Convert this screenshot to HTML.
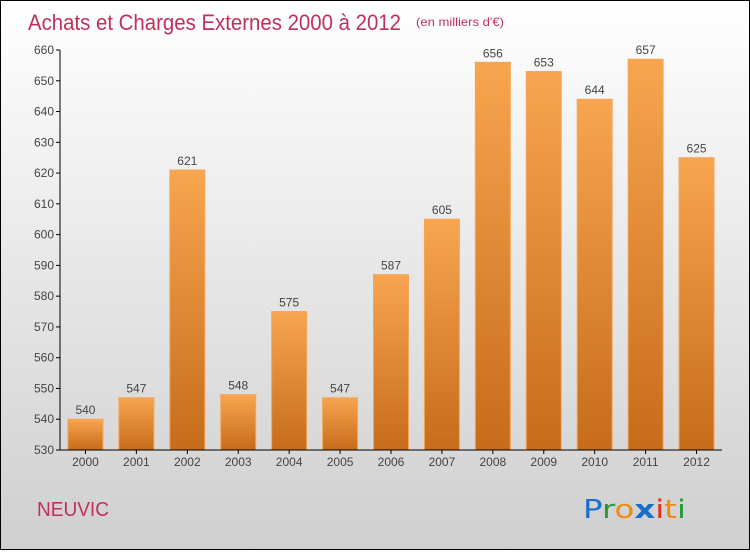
<!DOCTYPE html>
<html><head><meta charset="utf-8"><style>
body{margin:0;width:750px;height:550px;overflow:hidden;font-family:"Liberation Sans",sans-serif}
#wrap{position:relative;width:748px;height:548px;border:1px solid #000;background:linear-gradient(#ffffff,#cfcfcf)}
</style></head><body>
<div id="wrap">
<svg id="chart" width="748" height="548" font-family="Liberation Sans, sans-serif">
<text x="27" y="29" font-size="22" fill="#c0305a" textLength="373" lengthAdjust="spacingAndGlyphs">Achats et Charges Externes 2000 à 2012</text>
<text x="415" y="25" font-size="12" fill="#c0305a" textLength="88" lengthAdjust="spacingAndGlyphs">(en milliers d'€)</text>
<text x="36" y="515" font-size="20" fill="#c0305a" textLength="72" lengthAdjust="spacingAndGlyphs">NEUVIC</text>
<g font-size="26" font-family="DejaVu Sans, sans-serif">
<text x="582" y="517" textLength="103" lengthAdjust="spacingAndGlyphs"><tspan fill="#1a6fc9">P</tspan><tspan fill="#2a9a3a">r</tspan><tspan fill="#f08a10">o</tspan><tspan fill="#1a6fc9" font-weight="bold">x</tspan><tspan fill="#e03020">i</tspan><tspan fill="#f08a10">t</tspan><tspan fill="#2a9a3a">i</tspan></text>
</g>
<defs><linearGradient id="bg" x1="0" y1="0" x2="0" y2="1"><stop offset="0" stop-color="#f8a550"/><stop offset="1" stop-color="#c66c1a"/></linearGradient></defs>
<g id="plot"></g>
</svg>
</div>
<script>
const years=["2000","2001","2002","2003","2004","2005","2006","2007","2008","2009","2010","2011","2012"];
const values=[540,547,621,548,575,547,587,605,656,653,644,657,625];
const yTicks=[530,540,550,560,570,580,590,600,610,620,630,640,650,660];
const NS="http://www.w3.org/2000/svg";
const g=document.getElementById('plot');
const y0=449,y1=49,vmin=530,vmax=660,x0=59,x1=721;
const ys=v=>y0-(v-vmin)/(vmax-vmin)*(y0-y1);
const step=(x1-x0)/years.length;
const xs=i=>x0+step*(i+0.5);
function mk(t,a){const e=document.createElementNS(NS,t);for(const k in a)e.setAttribute(k,a[k]);g.appendChild(e);return e;}
yTicks.forEach(v=>{
  const l=mk('line',{x1:x0-4,x2:x0,y1:ys(v),y2:ys(v),stroke:'#000'});
  
  
  const t=mk('text',{x:x0-6,y:ys(v)+4,'text-anchor':'end','font-size':12,fill:'#444'});
  t.textContent=v;
  
  
});
values.forEach((v,i)=>{
  const cx=xs(i),w=35;
  const r=mk('rect',{x:cx-w/2,y:ys(v),width:w,height:y0-ys(v),fill:'url(#bg)',stroke:'#f4a75a','stroke-width':1});
  
  
  const t=mk('text',{x:cx,y:ys(v)-5,'text-anchor':'middle','font-size':12,fill:'#444'});
  t.textContent=v;
  
  
  const tk=mk('line',{x1:cx,x2:cx,y1:y0,y2:y0+4,stroke:'#000'});
  
  
  const xl=mk('text',{x:cx,y:y0+16,'text-anchor':'middle','font-size':12,fill:'#444'});
  xl.textContent=years[i];
  
  
});
const ax=mk('line',{x1:x0,x2:x0,y1:y1,y2:y0,stroke:'#000'});


const bx=mk('line',{x1:x0,x2:x1,y1:y0,y2:y0,stroke:'#000'});


</script>
</body></html>
